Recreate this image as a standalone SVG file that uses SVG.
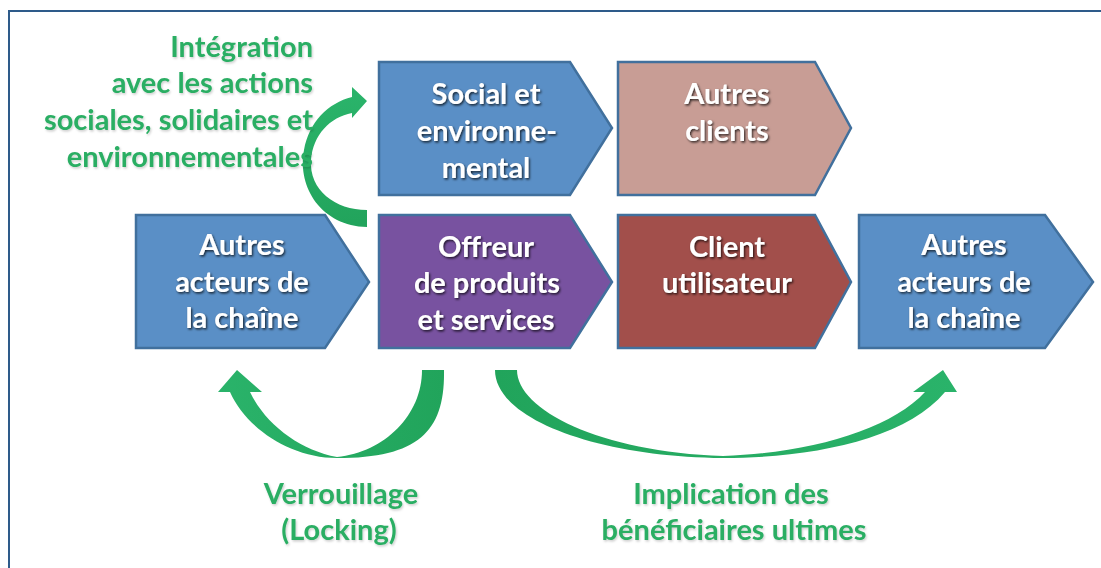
<svg xmlns="http://www.w3.org/2000/svg" width="1101" height="568" viewBox="0 0 1101 568">
<defs>
<style>
.box{stroke:#41709d;stroke-width:2.5;stroke-linejoin:miter}
.blue{fill:#5a8fc6}
.pink{fill:#c89d95}
.purple{fill:#7852a0}
.red{fill:#a24f4b}
.bt{font-family:Lato,"Open Sans","Liberation Sans",sans-serif;font-weight:bold;font-size:29px;fill:#ffffff;text-anchor:middle;filter:url(#sh)}
.gt{font-family:Lato,"Open Sans","Liberation Sans",sans-serif;font-weight:bold;font-size:29px;fill:#2bae64;filter:url(#gsh)}
</style>
<filter id="sh" x="-10%" y="-30%" width="120%" height="160%">
<feDropShadow dx="1.2" dy="1.5" stdDeviation="1" flood-color="#000" flood-opacity="0.75"/>
</filter>
<filter id="gsh" x="-10%" y="-30%" width="120%" height="160%">
<feDropShadow dx="1" dy="1.5" stdDeviation="1" flood-color="#000" flood-opacity="0.2"/>
</filter>
<linearGradient id="g1" gradientUnits="userSpaceOnUse" x1="367" y1="220" x2="352" y2="95">
<stop offset="0" stop-color="#22a45c"/><stop offset="1" stop-color="#2ab36a"/>
</linearGradient>
<linearGradient id="g2" gradientUnits="userSpaceOnUse" x1="444" y1="0" x2="218" y2="0">
<stop offset="0" stop-color="#21a45b"/><stop offset="1" stop-color="#2ab36a"/>
</linearGradient>
<linearGradient id="g3" gradientUnits="userSpaceOnUse" x1="495" y1="0" x2="957" y2="0">
<stop offset="0" stop-color="#21a45b"/><stop offset="1" stop-color="#2ab36a"/>
</linearGradient>
</defs>
<rect width="1101" height="568" fill="#ffffff"/>
<path d="M9,568 V11 H1101" fill="none" stroke="#2e5b8a" stroke-width="2"/>

<g id="connectors">
<path d="M367,227 C322,226 297,188 304,150 C309,122 328,103 352,97 L352,87 L367,101 L352,118 L352,113 C330,117 313,135 311,160 C309,190 335,210 367,210 Z" fill="url(#g1)"/>
<path d="M422,370 H444 C445,430 420,458 337,458 C290,458 246,428 230,392 H218 L237,370 L262,392 H250 C266,425 300,450 337,457 C385,452 422,415 422,370 Z" fill="url(#g2)"/>
<path d="M495,370 H517 C517,410 600,452 723,456 C810,453 890,430 925,392 H913 L943,370 L957,392 H945 C905,440 810,458 723,458 C600,457 495,420 495,370 Z" fill="url(#g3)"/>
</g>

<g id="node-autres-acteurs-gauche">
<path class="box blue" d="M136,215 H325 L369,282 L325,348 H136 Z"/>
<text class="bt" x="242" y="255">Autres</text>
<text class="bt" x="242" y="292">acteurs de</text>
<text class="bt" x="242" y="328">la chaîne</text>
</g>

<g id="node-social">
<path class="box blue" d="M379,62 H570 L612,128 L570,195 H379 Z"/>
<text class="bt" x="486" y="104">Social et</text>
<text class="bt" x="487" y="141">environne-</text>
<text class="bt" x="486" y="178">mental</text>
</g>

<g id="node-autres-clients">
<path class="box pink" d="M618,62 H815 L851,128 L815,195 H618 Z"/>
<text class="bt" x="727" y="104">Autres</text>
<text class="bt" x="727" y="141">clients</text>
</g>

<g id="node-offreur">
<path class="box purple" d="M379,215 H570 L612,282 L570,348 H379 Z"/>
<text class="bt" x="486" y="257">Offreur</text>
<text class="bt" x="487" y="293">de produits</text>
<text class="bt" x="486" y="330">et services</text>
</g>

<g id="node-client">
<path class="box red" d="M618,215 H815 L851,282 L815,348 H618 Z"/>
<text class="bt" x="727" y="257">Client</text>
<text class="bt" x="727" y="293">utilisateur</text>
</g>

<g id="node-autres-acteurs-droite">
<path class="box blue" d="M859,215 H1045 L1093,282 L1045,348 H859 Z"/>
<text class="bt" x="964" y="255">Autres</text>
<text class="bt" x="964" y="292">acteurs de</text>
<text class="bt" x="964" y="328">la chaîne</text>
</g>

<g id="label-integration">
<text class="gt" text-anchor="end" x="313" y="57">Intégration</text>
<text class="gt" text-anchor="end" x="313" y="93">avec les actions</text>
<text class="gt" text-anchor="end" x="313" y="130">sociales, solidaires et</text>
<text class="gt" text-anchor="end" x="313" y="167">environnementales</text>
</g>

<g id="label-verrouillage">
<text class="gt" text-anchor="middle" x="341" y="504">Verrouillage</text>
<text class="gt" text-anchor="middle" x="339" y="540">(Locking)</text>
</g>

<g id="label-implication">
<text class="gt" text-anchor="middle" x="731" y="504">Implication des</text>
<text class="gt" text-anchor="middle" x="734" y="540">bénéficiaires ultimes</text>
</g>
</svg>
